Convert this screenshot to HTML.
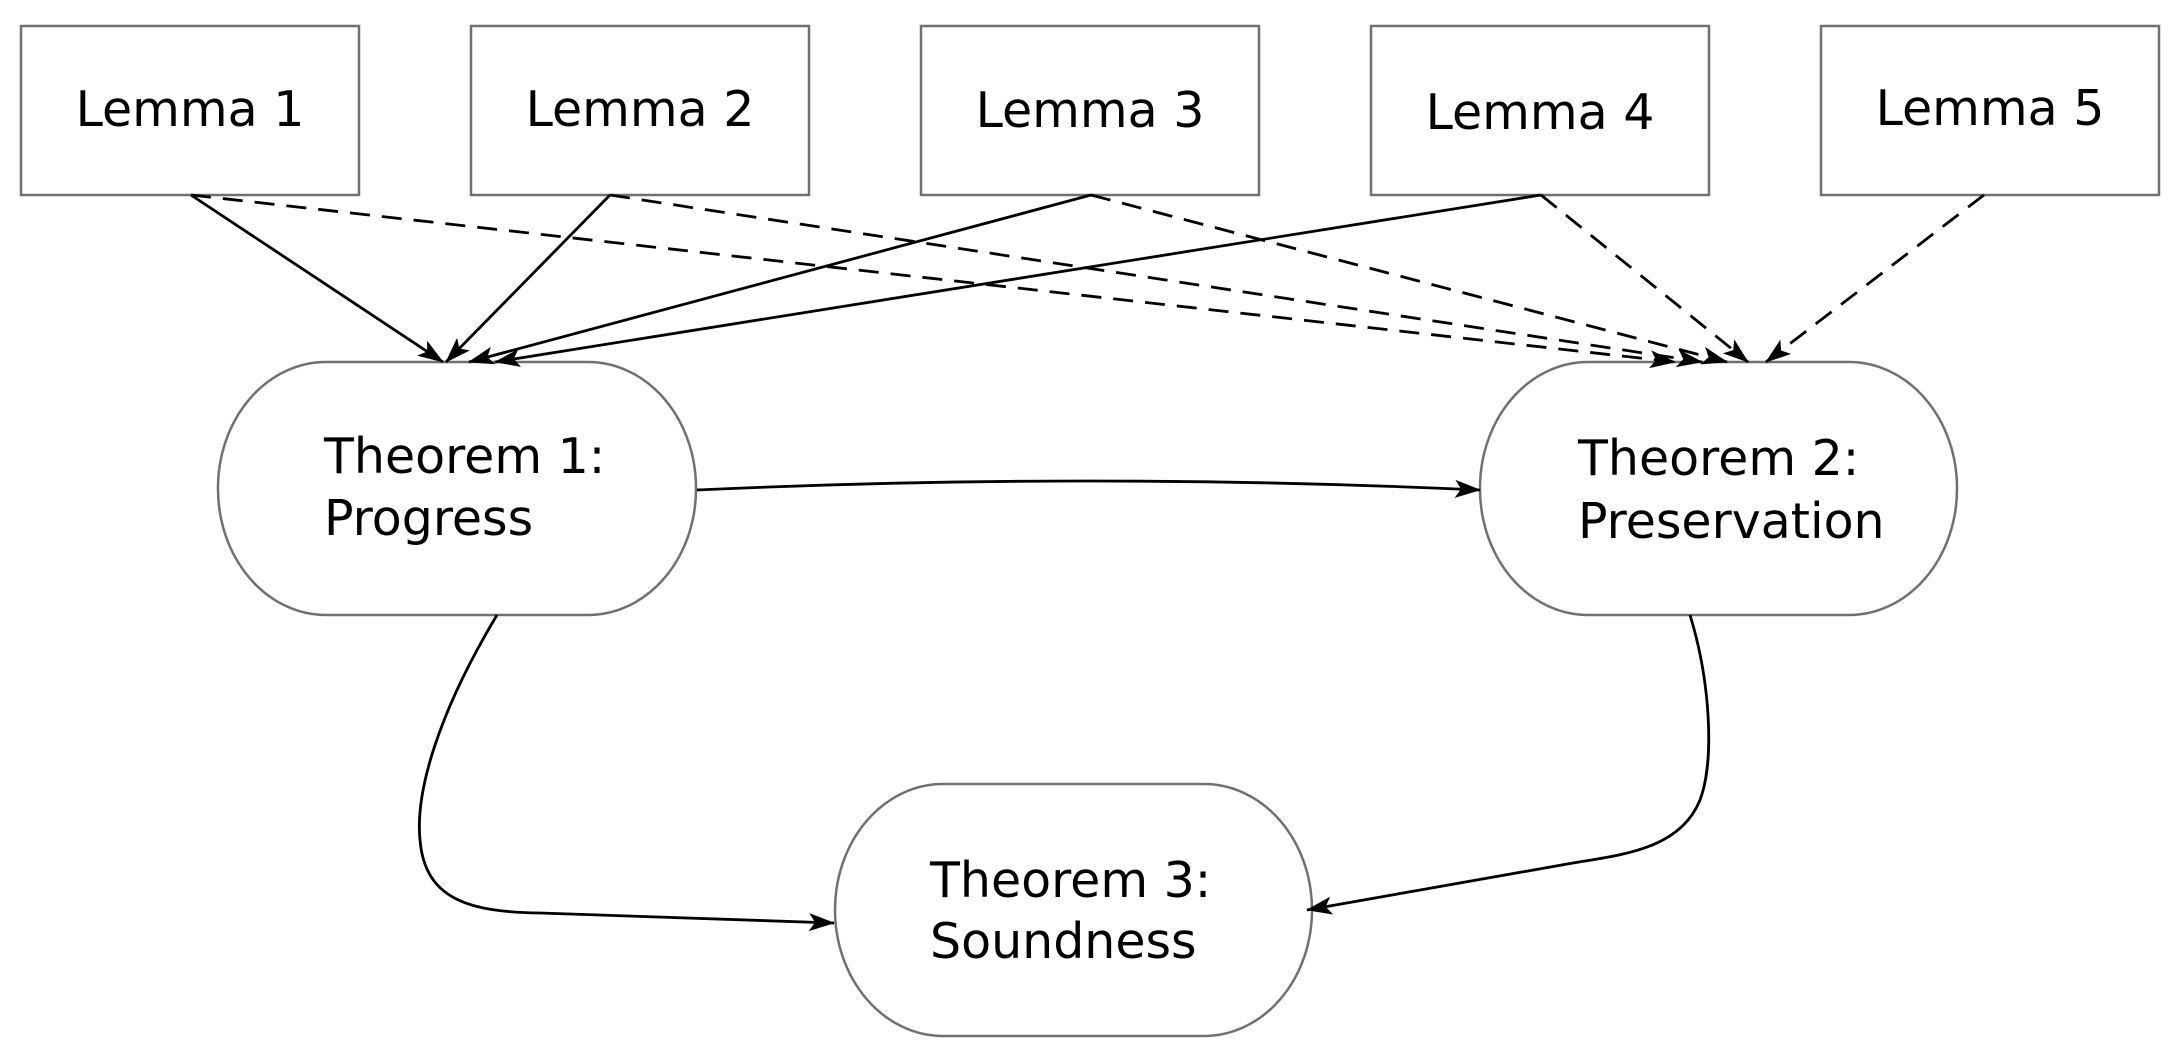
<!DOCTYPE html>
<html><head><meta charset="utf-8"><style>
html,body{margin:0;padding:0;background:#fff;}
svg{display:block;}
text{font-family:"DejaVu Sans","Liberation Sans",sans-serif;font-size:49px;fill:#000;}
</style></head><body>
<svg width="2179" height="1055" viewBox="0 0 2179 1055" xmlns="http://www.w3.org/2000/svg">
<defs>
<marker id="a" viewBox="0 0 26 18" refX="25" refY="9" markerWidth="26" markerHeight="18" markerUnits="userSpaceOnUse" orient="auto">
<path d="M0,0 L26,9 L0,18 L6,9 Z" fill="#000"/>
</marker>
</defs>
<g fill="#fff" stroke="#707070" stroke-width="2.5">
<rect x="21" y="26" width="338" height="169"/>
<rect x="471" y="26" width="338" height="169"/>
<rect x="921" y="26" width="338" height="169"/>
<rect x="1371" y="26" width="338" height="169"/>
<rect x="1821" y="26" width="338" height="169"/>
<rect x="218" y="362" width="478" height="253" rx="108" ry="126"/>
<rect x="1480" y="362" width="477" height="253" rx="108" ry="126"/>
<rect x="835" y="784" width="477" height="252" rx="108" ry="126"/>
</g>
<g text-anchor="middle">
<text x="190" y="126">Lemma 1</text>
<text x="640" y="126">Lemma 2</text>
<text x="1090" y="127">Lemma 3</text>
<text x="1540" y="129">Lemma 4</text>
<text x="1990" y="125">Lemma 5</text>
</g>
<text x="324" y="473">Theorem 1:</text>
<text x="324" y="535">Progress</text>
<text x="1578" y="475">Theorem 2:</text>
<text x="1578" y="538">Preservation</text>
<text x="930" y="897">Theorem 3:</text>
<text x="930" y="958">Soundness</text>
<g fill="none" stroke="#000" stroke-width="2.8" marker-end="url(#a)">
<path d="M191,195 L443,362"/>
<path d="M610,195 L446,362"/>
<path d="M1091,195 L469,362"/>
<path d="M1541,195 L495,362"/>
<path d="M697,490 Q1088,472 1480,490"/>
<path d="M497,615 C440,710 415,790 420,840 C425,900 470,912 540,913 L834,923"/>
<path d="M1690,615 C1710,680 1715,760 1700,800 C1680,850 1620,855 1573,863 L1307,910"/>
</g>
<g fill="none" stroke="#000" stroke-width="2.8" stroke-dasharray="20,12" marker-end="url(#a)">
<path d="M191,195 L1675,362"/>
<path d="M610,195 L1702,362"/>
<path d="M1091,195 L1727,362"/>
<path d="M1541,195 L1748,362"/>
<path d="M1984,195 L1766,362"/>
</g>
</svg>
</body></html>
